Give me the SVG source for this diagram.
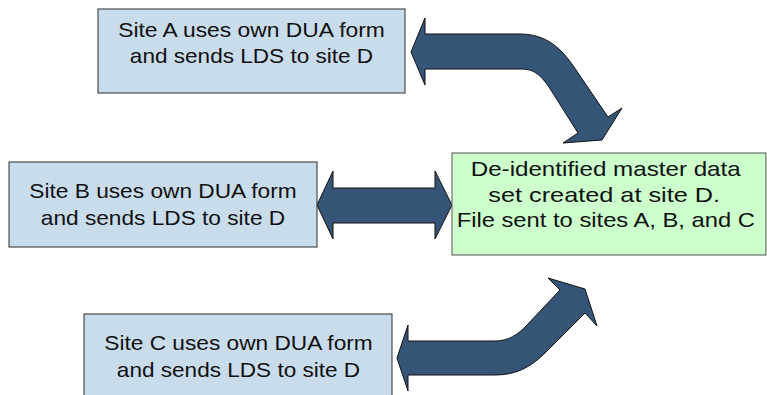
<svg xmlns="http://www.w3.org/2000/svg" width="767" height="395" viewBox="0 0 767 395">
<style>
.site{fill:#C9DCEC;stroke:#2b2b2b;stroke-width:1}
.master{fill:#CCFFCC;stroke:#555;stroke-width:1}
.lbl{font-family:"Liberation Sans",Arial,sans-serif;font-size:21px;fill:#111;text-anchor:middle}
.arr{fill:#355577;stroke:#111;stroke-width:1;stroke-linejoin:miter}
</style>
<rect width="767" height="395" fill="#fff"/>
<g id="connectors">
<path class="arr" d="M411,52 L425,18 L425,34 L520,34 C546,34 561,48 574,67 L608,117 L622,108 L602,140 L563,143 L578,133 L549,87 C539,73 533,69 520,69 L425,69 L425,85 Z"/>
<path class="arr" d="M317,205 L333,171 L333,188 L435,188 L435,171 L452,205 L435,239 L435,223 L333,223 L333,239 Z"/>
<path class="arr" d="M397,358 L408,325 L408,341 L495,341 C508,341 518,335 527,325 L560,290 L548,278 L585,289 L597,326 L585,313 L545,353 C530,368 515,375 495,375 L408,375 L408,391 Z"/>
</g>
<g id="siteA">
<rect class="site" x="98" y="9" width="307" height="84"/>
<text class="lbl" x="251.5" y="36.7" textLength="266.7" lengthAdjust="spacingAndGlyphs">Site A uses own DUA form</text>
<text class="lbl" x="251.5" y="63.3" textLength="243.3" lengthAdjust="spacingAndGlyphs">and sends LDS to site D</text>
</g>
<g id="siteB">
<rect class="site" x="9" y="162" width="308" height="85"/>
<text class="lbl" x="163" y="197.7" textLength="267.4" lengthAdjust="spacingAndGlyphs">Site B uses own DUA form</text>
<text class="lbl" x="163" y="225" textLength="244.3" lengthAdjust="spacingAndGlyphs">and sends LDS to site D</text>
</g>
<g id="siteC">
<rect class="site" x="84" y="314" width="308" height="90"/>
<text class="lbl" x="238.5" y="350" textLength="268.4" lengthAdjust="spacingAndGlyphs">Site C uses own DUA form</text>
<text class="lbl" x="238.5" y="377.3" textLength="243.3" lengthAdjust="spacingAndGlyphs">and sends LDS to site D</text>
</g>
<g id="siteD">
<rect class="master" x="452" y="153" width="314" height="102"/>
<text class="lbl" x="605.7" y="176" textLength="270" lengthAdjust="spacingAndGlyphs">De-identified master data</text>
<text class="lbl" x="604.2" y="201.7" textLength="231.7" lengthAdjust="spacingAndGlyphs">set created at site D.</text>
<text class="lbl" x="605.8" y="227.3" textLength="298.3" lengthAdjust="spacingAndGlyphs">File sent to sites A, B, and C</text>
</g>
</svg>
